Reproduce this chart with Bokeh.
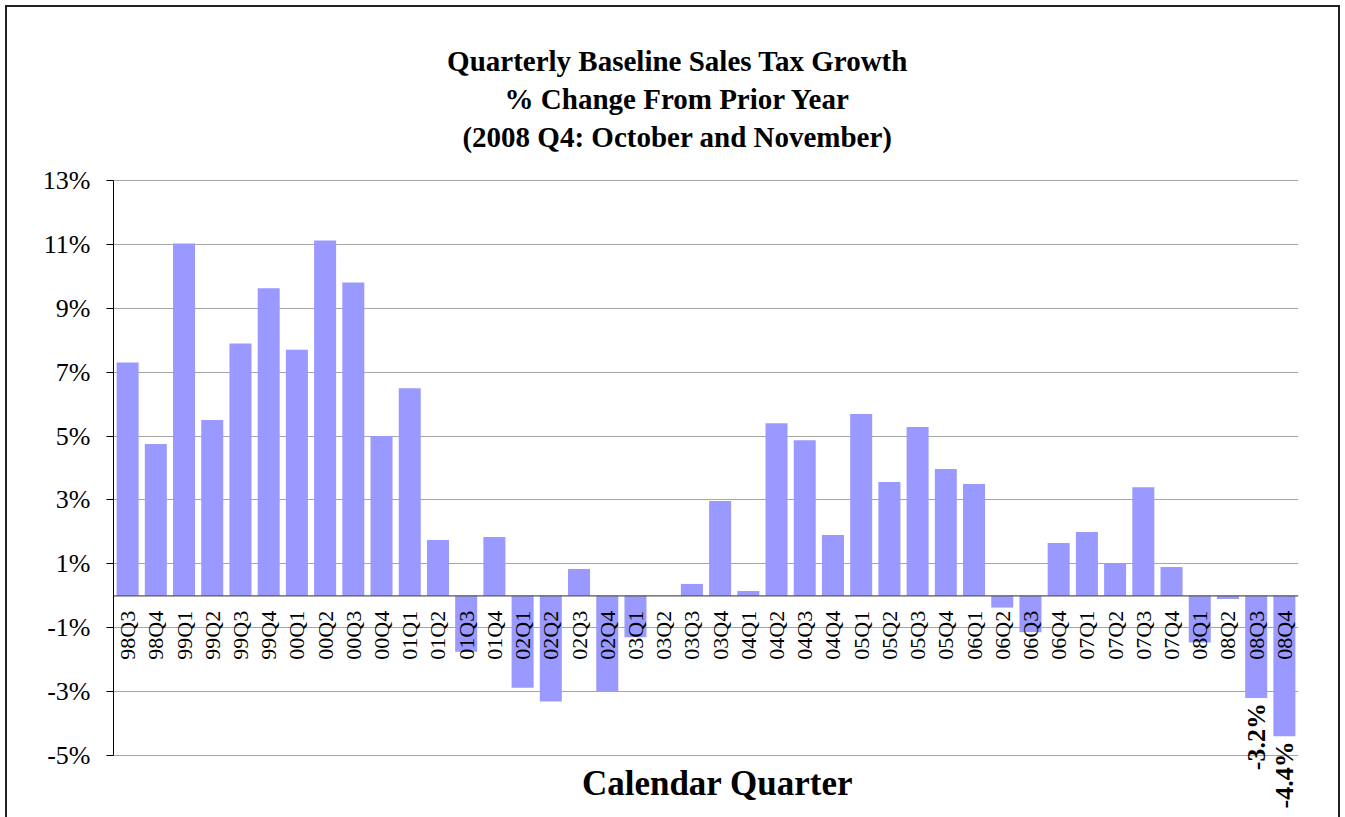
import math
from bokeh.plotting import figure
from bokeh.models import (ColumnDataSource, Range1d, FixedTicker, PrintfTickFormatter,
                          Span, Label, LabelSet)
from bokeh.core.properties import value
from bokeh.embed import file_html
from bokeh.resources import INLINE

quarters = ["98Q3", "98Q4",
            "99Q1", "99Q2", "99Q3", "99Q4",
            "00Q1", "00Q2", "00Q3", "00Q4",
            "01Q1", "01Q2", "01Q3", "01Q4",
            "02Q1", "02Q2", "02Q3", "02Q4",
            "03Q1", "03Q2", "03Q3", "03Q4",
            "04Q1", "04Q2", "04Q3", "04Q4",
            "05Q1", "05Q2", "05Q3", "05Q4",
            "06Q1", "06Q2", "06Q3", "06Q4",
            "07Q1", "07Q2", "07Q3", "07Q4",
            "08Q1", "08Q2", "08Q3", "08Q4"]
growth = [7.3, 4.75,
          11.03, 5.5, 7.9, 9.63,
          7.7, 11.12, 9.81, 5.0,
          6.5, 1.75, -1.75, 1.84,
          -2.88, -3.31, 0.84, -2.98,
          -1.3, 0.0, 0.37, 2.97,
          0.15, 5.4, 4.87, 1.9,
          5.69, 3.56, 5.28, 3.97,
          3.5, -0.37, -1.14, 1.65,
          2.0, 1.02, 3.4, 0.9,
          -1.46, -0.1, -3.2, -4.4]
labeled_quarters = ["08Q3", "08Q4"]
y_ticks = [-5, -3, -1, 1, 3, 5, 7, 9, 11, 13]
title_lines = ["Quarterly Baseline Sales Tax Growth",
               "% Change From Prior Year",
               "(2008 Q4: October and November)"]
x_title = "Calendar Quarter"

W, H = 1345, 817
FRAME_LEFT, FRAME_RIGHT = 113, 1298
TOP_PX, BOTTOM_PX = 180, 755          # pixel rows of 13% and -5%
px_per_unit = (BOTTOM_PX - TOP_PX) / (y_ticks[-1] - y_ticks[0])
y_hi = y_ticks[-1] + TOP_PX / px_per_unit
y_lo = y_ticks[0] - (H - BOTTOM_PX) / px_per_unit

idx = list(range(len(quarters)))
src = ColumnDataSource(dict(x=idx, q=quarters, v=growth, zero=[0] * len(idx)))

p = figure(width=W, height=H, output_backend="svg", toolbar_location=None,
           x_range=Range1d(-0.5, len(quarters) - 0.5), y_range=Range1d(y_lo, y_hi),
           min_border_left=FRAME_LEFT, min_border_right=W - FRAME_RIGHT,
           min_border_top=0, min_border_bottom=0)
p.border_fill_color = None
p.background_fill_color = None
p.outline_line_color = None
p.styles = {"box-shadow": "inset 5px 5px 0 white, inset -5px 0 0 white, "
                          "inset 7px 7px 0 #222, inset -7px 0 0 #222",
            "background": "white"}

p.xaxis.visible = False
p.xgrid.visible = False

yaxis = p.yaxis[0]
yaxis.ticker = FixedTicker(ticks=y_ticks)
yaxis.bounds = (y_ticks[0], y_ticks[-1])
yaxis.formatter = PrintfTickFormatter(format="%d%%")
yaxis.major_label_text_font = "Liberation Serif"
yaxis.major_label_text_font_size = "26px"
yaxis.major_label_text_color = "black"
yaxis.axis_line_color = "black"
yaxis.major_tick_line_color = "black"
yaxis.major_tick_out = 7
yaxis.major_tick_in = 0
yaxis.minor_tick_line_color = None
yaxis.major_label_standoff = 16

p.ygrid.ticker = FixedTicker(ticks=y_ticks)
p.ygrid.grid_line_color = "#A6A6A6"
p.ygrid.grid_line_width = 1

p.vbar(x="x", top="v", bottom=0, width=0.78, source=src,
       fill_color="#9999FF", line_color=None)

p.add_layout(Span(location=0, dimension="width", line_color="#555555", line_width=1.3))

p.text(x="x", y="zero", text="q", source=src, angle=math.pi / 2,
       text_align="right", text_baseline="middle", y_offset=15,
       text_font=value("Liberation Serif"), text_font_size="22px", text_color="black")

lab_i = [quarters.index(q) for q in labeled_quarters]
lab_src = ColumnDataSource(dict(x=lab_i, y=[growth[i] for i in lab_i],
                                t=["%.1f%%" % growth[i] for i in lab_i]))
p.add_layout(LabelSet(x="x", y="y", text="t", source=lab_src, angle=math.pi / 2,
                      text_align="right", text_baseline="middle", y_offset=-5,
                      text_font="Liberation Serif", text_font_style="bold",
                      text_font_size="26px", text_color="black"))

title_centers_y = [60, 98, 136]
for line, cy in zip(title_lines, title_centers_y):
    p.add_layout(Label(x=677 - FRAME_LEFT, y=H - cy, x_units="screen", y_units="screen",
                       text=line, text_align="center", text_baseline="middle",
                       text_font="Liberation Serif", text_font_style="bold",
                       text_font_size="29px", text_color="black"))

p.add_layout(Label(x=717 - FRAME_LEFT, y=H - 783, x_units="screen", y_units="screen",
                   text=x_title, text_align="center", text_baseline="middle",
                   text_font="Liberation Serif", text_font_style="bold",
                   text_font_size="35px", text_color="black"))

open("out.html", "w").write(file_html(p, INLINE))
